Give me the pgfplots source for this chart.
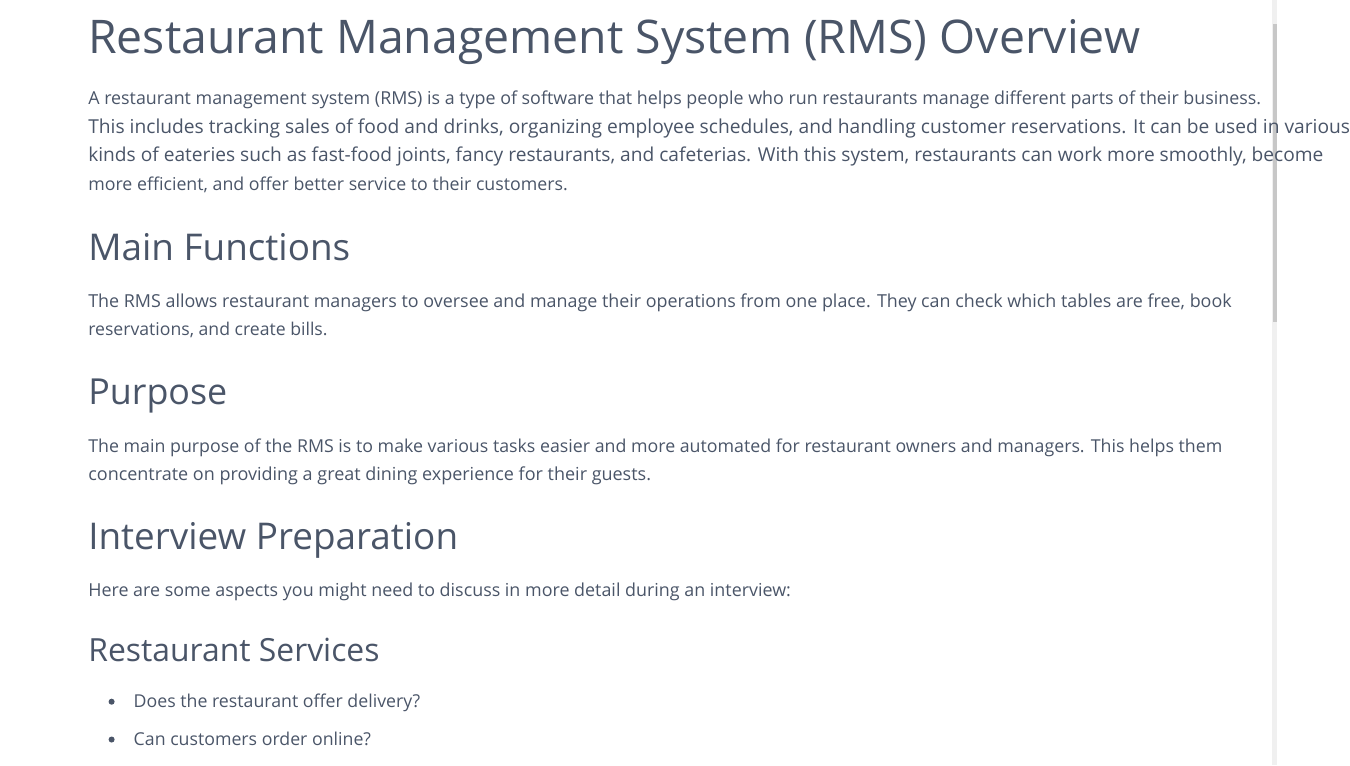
\documentclass[border=0pt]{standalone}
\usepackage{pgfplots}
\pgfplotsset{compat=1.18}
\usepackage{fontspec}
\setmainfont{Open Sans}
\definecolor{txt}{HTML}{4A5568}
\newcommand{\T}[4]{\node[anchor=base west,text=txt,inner sep=0pt] at (axis cs:#1,#2) {\resizebox{#3pt}{!}{#4}};}
\begin{document}
\begin{tikzpicture}
\begin{axis}[x=0.5pt,y=0.5pt,scale only axis,xmin=0,xmax=1350,ymin=0,ymax=809,y dir=reverse,
  axis lines=none,clip=false]
\addplot[draw=none] coordinates {(0,0) (1350,809)};
\fill[black!6] (axis cs:1345,0) rectangle (axis cs:1350,809);
\fill[black!22] (axis cs:1346,25) rectangle (axis cs:1350,340);
\T{93}{57}{556}{\fontsize{26}{30}\selectfont Restaurant Management System (RMS) Overview}
\T{93}{111}{620}{\fontsize{8}{10}\selectfont A restaurant management system (RMS) is a type of software that helps people who run restaurants manage different parts of their business.}
\T{93}{141}{667}{\fontsize{8}{10}\selectfont This includes tracking sales of food and drinks, organizing employee schedules, and handling customer reservations. It can be used in various}
\T{93}{171}{653}{\fontsize{8}{10}\selectfont kinds of eateries such as fast-food joints, fancy restaurants, and cafeterias. With this system, restaurants can work more smoothly, become}
\T{93}{201}{253.5}{\fontsize{8}{10}\selectfont more efficient, and offer better service to their customers.}
\T{93}{275}{138.5}{\fontsize{20}{24}\selectfont Main Functions}
\T{93}{325}{604.5}{\fontsize{8}{10}\selectfont The RMS allows restaurant managers to oversee and manage their operations from one place. They can check which tables are free, book}
\T{93}{355}{126.5}{\fontsize{8}{10}\selectfont reservations, and create bills.}
\T{93}{428}{73.5}{\fontsize{20}{24}\selectfont Purpose}
\T{93}{478}{599.5}{\fontsize{8}{10}\selectfont The main purpose of the RMS is to make various tasks easier and more automated for restaurant owners and managers. This helps them}
\T{93}{508}{297.5}{\fontsize{8}{10}\selectfont concentrate on providing a great dining experience for their guests.}
\T{93}{581}{195.5}{\fontsize{20}{24}\selectfont Interview Preparation}
\T{93}{631}{371.5}{\fontsize{8}{10}\selectfont Here are some aspects you might need to discuss in more detail during an interview:}
\T{93}{699}{154}{\fontsize{17}{20}\selectfont Restaurant Services}
\fill[txt] (axis cs:118,742) circle (1.6pt);
\fill[txt] (axis cs:118,782) circle (1.6pt);
\T{141}{748}{151.5}{\fontsize{8}{10}\selectfont Does the restaurant offer delivery?}
\T{141}{788}{125.5}{\fontsize{8}{10}\selectfont Can customers order online?}
\end{axis}
\end{tikzpicture}
\end{document}
